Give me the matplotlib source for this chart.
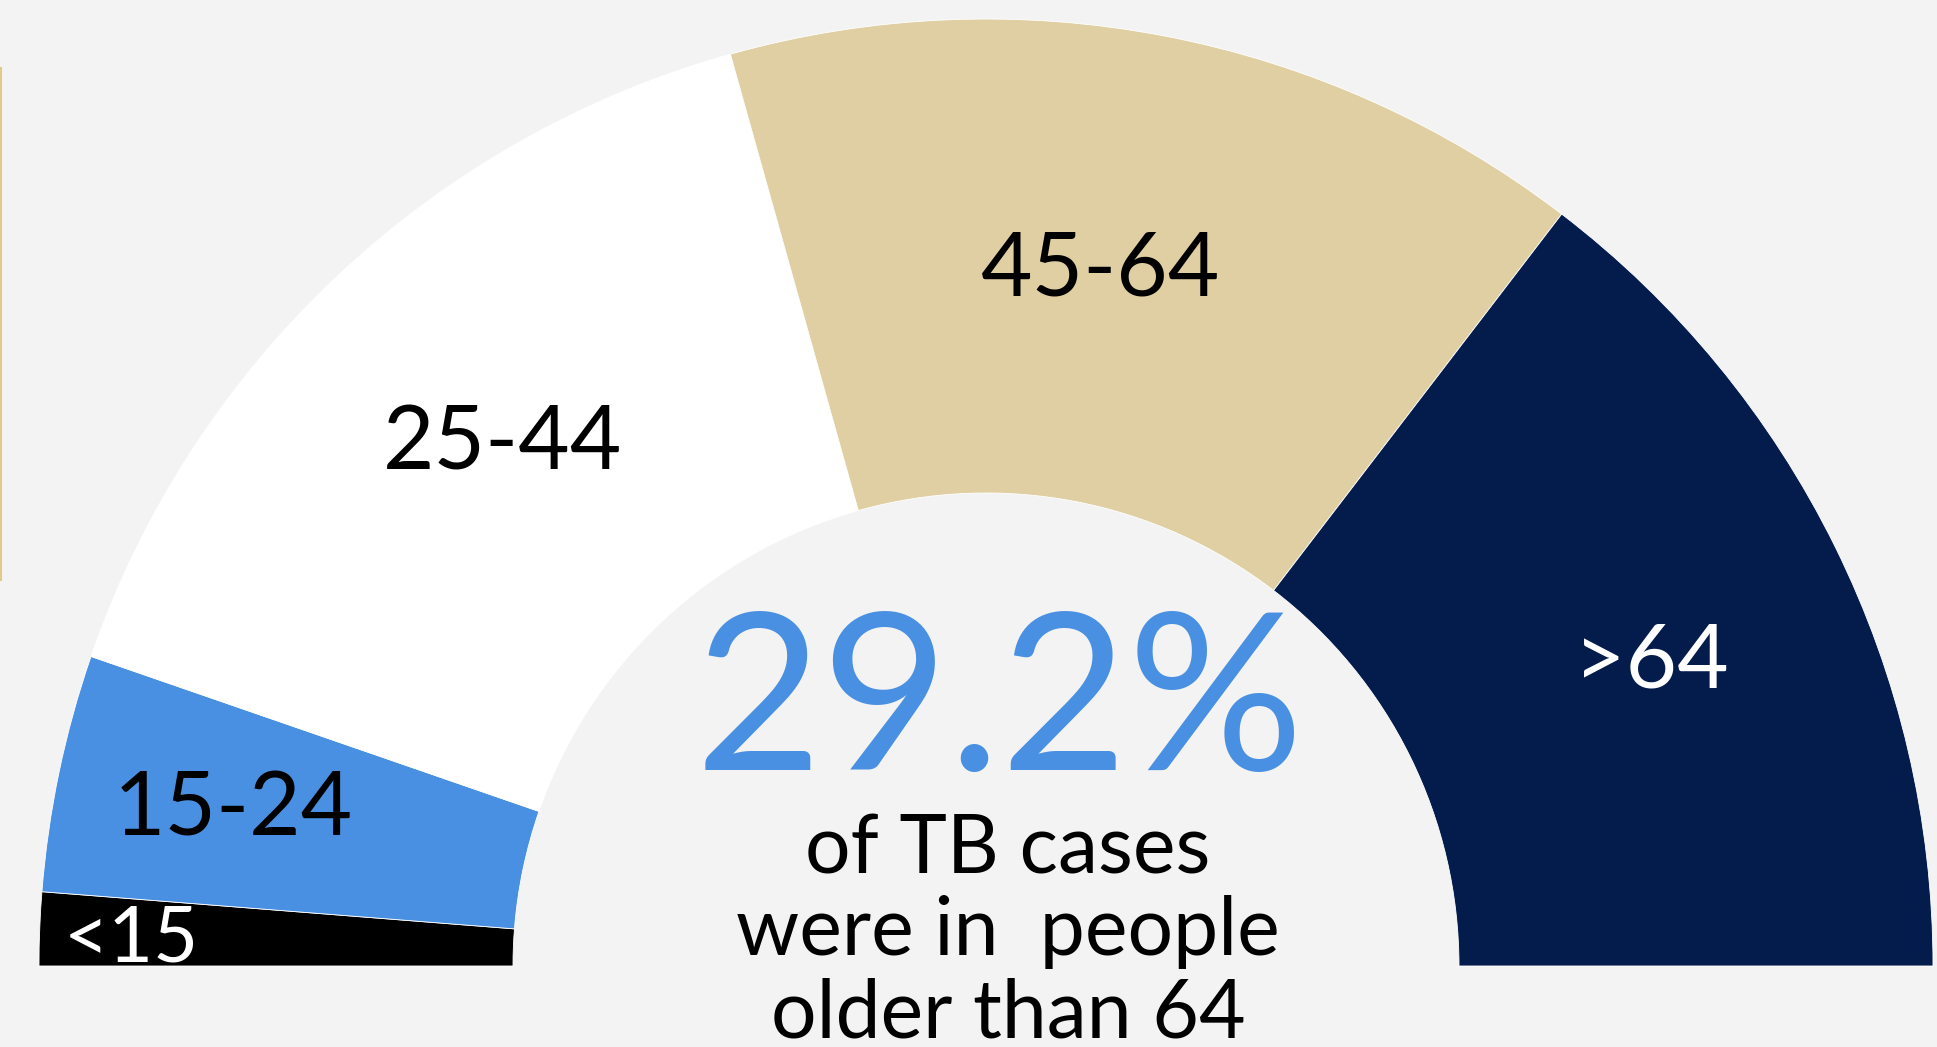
import matplotlib.pyplot as plt
from matplotlib.patches import Wedge
from matplotlib.lines import Line2D

# share of TB cases by age group (%)
groups = ['<15', '15-24', '25-44', '45-64', '>64']
shares = [2.5, 8.1, 30.7, 29.5, 29.2]
colors = ['#000000', '#4A90E2', '#FFFFFF', '#DFCFA3', '#041C4C']
label_colors = ['white', 'black', 'black', 'black', 'white']

headline = '29.2%'
caption = ['of TB cases', 'were in  people', 'older than 64']

W, H = 1937, 1047
fig = plt.figure(figsize=(W / 100, H / 100), dpi=100, facecolor='#F3F3F3')
ax = fig.add_axes([0, 0, 1, 1])
ax.set_xlim(0, W)
ax.set_ylim(0, H)
ax.axis('off')

cx, cy = 986, H - 966
r_out, r_in = 947, 473

# half donut, running clockwise from the left
ang = 180.0
for s, c in zip(shares, colors):
    sweep = s / sum(shares) * 180.0
    ax.add_patch(Wedge((cx, cy), r_out, ang - sweep, ang, width=r_out - r_in,
                       facecolor=c, edgecolor='white', linewidth=0.6))
    ang -= sweep

# label positions (x centre, baseline) in image pixels
label_pos = [(131, 962), (233, 836), (503, 469), (1101, 296), (1651, 687)]
label_size = [56, 64, 64, 64, 64]
for g, (x, y), tc, fs in zip(groups, label_pos, label_colors, label_size):
    ax.text(x, H - y, g, color=tc, fontsize=fs, family='Lato',
            ha='center', va='baseline')

ax.text(999, H - 770, headline, color='#4A90E2', fontsize=158, family='Lato',
        ha='center', va='baseline')
for i, line in enumerate(caption):
    ax.text(1008, H - (873 + i * 82), line, color='black', fontsize=58,
            family='Lato', ha='center', va='baseline')

# thin gold rule on the left edge
fig.add_artist(Line2D([1 / W, 1 / W], [1 - 68 / H, 1 - 580 / H],
                      color='#E0C98F', linewidth=1.5))

fig.savefig('out.png', dpi=100, facecolor=fig.get_facecolor())
